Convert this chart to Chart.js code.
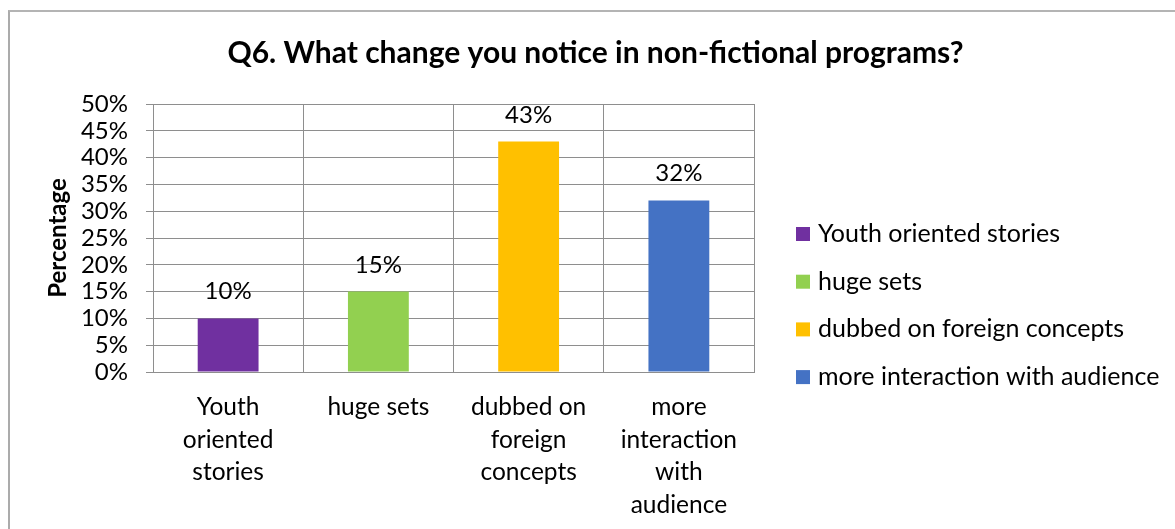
<!DOCTYPE html>
<html>
<head>
<meta charset="utf-8">
<script src="https://cdn.jsdelivr.net/npm/chart.js@4.4.1/dist/chart.umd.min.js"></script>
<style>
  html, body { margin: 0; padding: 0; background: #fff; overflow: hidden; }
  #wrap { position: relative; width: 1175px; height: 529px; }
  #frame {
    position: absolute; left: 8px; top: 10px; width: 1300px; height: 700px;
    border-left: 2px solid #ababab; border-top: 2px solid #b4b4b4;
    pointer-events: none;
  }
  canvas { position: absolute; left: 0; top: 0; }
</style>
</head>
<body>
<div id="wrap">
  <canvas id="q6Chart" width="1175" height="529"></canvas>
  <div id="frame"></div>
</div>
<script>
// Q6 answers
const categories = [
  ['Youth', 'oriented', 'stories'],
  ['huge sets'],
  ['dubbed on', 'foreign', 'concepts'],
  ['more', 'interaction', 'with', 'audience']
];
const legendNames = [
  'Youth oriented stories',
  'huge sets',
  'dubbed on foreign concepts',
  'more interaction with audience'
];
const percentValues = [10, 15, 43, 32];
const barColors = ['#7030A0', '#92D050', '#FFC000', '#4472C4'];
const yTicks = { min: 0, max: 50, step: 5 };

const GRID = '#8e8e8e';
const FONT = 'Lato';

// label above each bar
const valueLabels = {
  id: 'valueLabels',
  afterDatasetsDraw(chart, args, opts) {
    const ctx = chart.ctx;
    const meta = chart.getDatasetMeta(0);
    ctx.save();
    ctx.font = opts.size + 'px ' + FONT;
    ctx.fillStyle = '#000';
    ctx.textAlign = 'center';
    ctx.textBaseline = 'alphabetic';
    meta.data.forEach((bar, i) => {
      ctx.fillText(percentValues[i] + '%', bar.x, bar.y - opts.gap);
    });
    ctx.restore();
  }
};

// legend column on the right, one entry per category
const sideLegend = {
  id: 'sideLegend',
  beforeInit(chart, args, opts) {
    const box = {
      position: 'right',
      weight: 1000,
      fullSize: true,
      options: {},
      isHorizontal: () => false,
      update(maxWidth, maxHeight) {
        this.width = opts.width;
        this.height = maxHeight;
      },
      draw() {
        const ctx = chart.ctx;
        const x = this.left + opts.gap;
        ctx.save();
        ctx.font = opts.size + 'px ' + FONT;
        ctx.textBaseline = 'middle';
        ctx.textAlign = 'left';
        legendNames.forEach((name, i) => {
          const y = opts.top + i * opts.step;
          ctx.fillStyle = barColors[i];
          ctx.fillRect(x, y - opts.box / 2, opts.box, opts.box);
          ctx.fillStyle = '#000';
          ctx.fillText(name, x + opts.box + 8, y);
        });
        ctx.restore();
      }
    };
    Chart.layouts.addBox(chart, box);
  }
};

function drawChart() {
  Chart.defaults.font.family = FONT;
  Chart.defaults.color = '#000';

  new Chart(document.getElementById('q6Chart'), {
    type: 'bar',
    data: {
      labels: categories,
      datasets: [{
        label: 'Percentage',
        data: percentValues,
        backgroundColor: barColors,
        barPercentage: 0.405,
        categoryPercentage: 1
      }]
    },
    options: {
      responsive: false,
      animation: false,
      layout: { padding: { left: 16, right: 0, top: 0, bottom: 0 } },
      scales: {
        x: {
          offset: true,
          grid: { color: GRID, offset: true, drawTicks: false },
          border: { color: GRID },
          ticks: {
            font: { size: 24.5, lineHeight: 1.33 },
            padding: 19,
            maxRotation: 0,
            autoSkip: false
          },
          afterFit(scale) { scale.height = 157; }
        },
        y: {
          min: yTicks.min,
          max: yTicks.max,
          grid: { color: GRID, tickLength: 7 },
          border: { color: GRID },
          ticks: {
            stepSize: yTicks.step,
            autoSkip: false,
            font: { size: 24 },
            padding: 18,
            callback: v => v + '%'
          },
          title: {
            display: true,
            text: 'Percentage',
            font: { size: 24, weight: 'bold', lineHeight: 1.2 },
            padding: { top: 27.5, bottom: 0 }
          },
          afterFit(scale) { scale.width = 137; }
        }
      },
      plugins: {
        legend: { display: false },
        tooltip: { enabled: false },
        title: {
          display: true,
          text: 'Q6. What change you notice in non-fictional programs?',
          font: { size: 30, weight: 'bold', lineHeight: 1.2 },
          color: '#000',
          padding: { top: 35, bottom: 33 }
        },
        valueLabels: { size: 24, gap: 19 },
        sideLegend: { width: 421, gap: 42, top: 234, step: 47.7, box: 14, size: 25 }
      }
    },
    plugins: [valueLabels, sideLegend]
  });
}

document.fonts.load('24px Lato').then(drawChart, drawChart);
</script>
</body>
</html>
